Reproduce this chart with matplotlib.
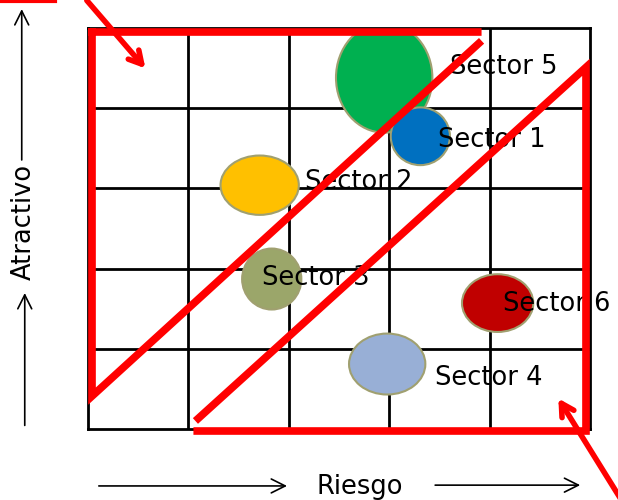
import matplotlib.pyplot as plt
from matplotlib.patches import Ellipse

# sectors (grid units: 5 x 5 cells, x = riesgo, y = atractivo)
sectors = ['Sector 5', 'Sector 1', 'Sector 2', 'Sector 3', 'Sector 6', 'Sector 4']
cx = [2.95, 3.31, 1.71, 1.83, 4.08, 2.98]
cy = [4.38, 3.65, 3.04, 1.87, 1.57, 0.81]
widths = [0.96, 0.59, 0.78, 0.59, 0.71, 0.76]
heights = [1.37, 0.72, 0.74, 0.76, 0.72, 0.76]
colors = ['#00b050', '#0070c0', '#ffc000', '#9ba66a', '#c00000', '#98afd6']
label_x = [3.61, 3.49, 2.16, 1.73, 4.13, 3.46]
label_y = [4.51, 3.60, 3.08, 1.88, 1.56, 0.64]

# red zones
upper_x = [3.92, 0.0, 0.04, 0.04, 3.92]
upper_y = [4.95, 4.95, 4.95, 0.41, 4.84]
lower_x = [1.07, 4.96, 4.96, 4.96, 1.05]
lower_y = [0.10, 4.51, 4.48, -0.025, -0.025]

fig = plt.figure(figsize=(6.18, 5), dpi=100)
ax = fig.add_axes([88 / 618, 71 / 500, 502 / 618, 401 / 500])
ax.set_xlim(0, 5)
ax.set_ylim(0, 5)
ax.set_xticks([])
ax.set_yticks([])
for s in ax.spines.values():
    s.set_linewidth(2)
for v in range(1, 5):
    ax.axvline(v, color='black', lw=2, zorder=1)
    ax.axhline(v, color='black', lw=2, zorder=1)

for i in range(len(sectors)):
    ax.add_patch(Ellipse((cx[i], cy[i]), widths[i], heights[i], facecolor=colors[i],
                         edgecolor='#a0a070', lw=1.5, zorder=2))
    ax.text(label_x[i], label_y[i], sectors[i], fontsize=18.5, va='center', ha='left', zorder=3)

ax.plot(upper_x, upper_y, color='red', lw=5.5, solid_capstyle='butt',
        solid_joinstyle='miter', clip_on=False, zorder=4)
ax.plot(lower_x, lower_y, color='red', lw=5.5, solid_capstyle='butt',
        solid_joinstyle='miter', clip_on=False, zorder=4)

# red pointer arrows
red_arrow = dict(arrowstyle='->,head_length=0.9,head_width=0.5', color='red', lw=4)
ax.annotate('', xy=(0.59, 4.47), xytext=(-0.03, 5.37), arrowprops=red_arrow,
            annotation_clip=False, zorder=5)
ax.annotate('', xy=(4.67, 0.41), xytext=(5.32, -0.9), arrowprops=red_arrow,
            annotation_clip=False, zorder=5)
ax.plot([-0.88, -0.33], [5.34, 5.34], color='red', lw=3, clip_on=False)

# axis arrows and titles
black_arrow = dict(arrowstyle='->,head_length=1.0,head_width=0.5', color='black', lw=1.2)
ax.annotate('', xy=(-0.63, 1.73), xytext=(-0.63, 0.01), arrowprops=black_arrow, annotation_clip=False)
ax.annotate('', xy=(-0.66, 5.27), xytext=(-0.66, 3.32), arrowprops=black_arrow, annotation_clip=False)
ax.text(-0.64, 2.58, 'Atractivo', rotation=90, fontsize=18.5, ha='center', va='center')
ax.annotate('', xy=(2.01, -0.71), xytext=(0.08, -0.71), arrowprops=black_arrow, annotation_clip=False)
ax.annotate('', xy=(4.93, -0.70), xytext=(3.43, -0.70), arrowprops=black_arrow, annotation_clip=False)
ax.text(2.71, -0.72, 'Riesgo', fontsize=18.5, ha='center', va='center')

fig.savefig('out.png', dpi=100)
